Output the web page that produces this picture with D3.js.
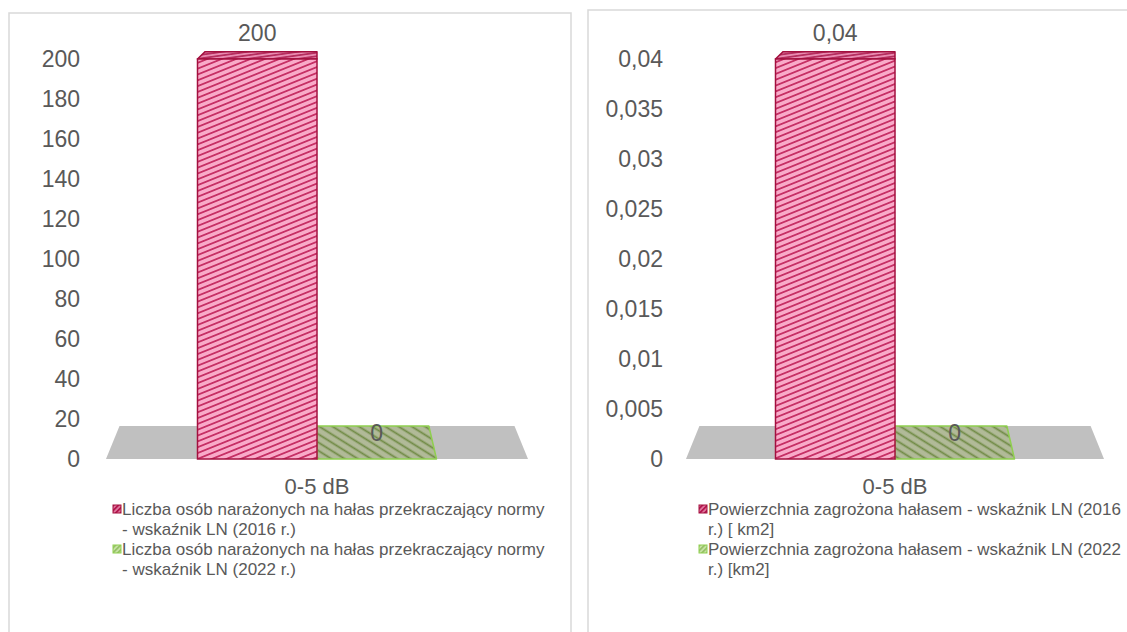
<!DOCTYPE html>
<html>
<head>
<meta charset="utf-8">
<script src="https://cdn.jsdelivr.net/npm/d3@7"></script>
<style>
  html, body { margin: 0; padding: 0; background: #fff; }
  svg { display: block; font-family: "Liberation Sans", Arial, sans-serif; }
</style>
</head>
<body>
<svg id="chart" width="1127" height="632"></svg>
<script>
// ---- data ----
const categories = ["0-5 dB"];

const peopleSeries = [
  "Liczba osób narażonych na hałas przekraczający normy\n- wskaźnik LN (2016 r.)",
  "Liczba osób narażonych na hałas przekraczający normy\n- wskaźnik LN (2022 r.)"
];
const peopleValues = [200, 0];
const peopleTicks = [0, 20, 40, 60, 80, 100, 120, 140, 160, 180, 200];

const areaSeries = [
  "Powierzchnia zagrożona hałasem - wskaźnik LN (2016\nr.) [ km2]",
  "Powierzchnia zagrożona hałasem - wskaźnik LN (2022\nr.) [km2]"
];
const areaValues = [0.04, 0];
const areaTicks = [0, 0.005, 0.01, 0.015, 0.02, 0.025, 0.03, 0.035, 0.04];

// ---- styling ----
const plLocale = d3.formatLocale({ decimal: ",", thousands: " ", grouping: [3], currency: ["", " zł"] });
const fmt = plLocale.format("~f");
const textColor = "#595959";
const seriesStyle = [
  { fill: "url(#hatchRed)", top: "url(#hatchRedTop)", stroke: "#a3103f", marker: "url(#markRed)" },
  { fill: "url(#hatchGreen)", top: "url(#hatchGreen)", stroke: "#8fcf4f", marker: "url(#markGreen)" }
];

const svg = d3.select("#chart");
const defs = svg.append("defs");

function hatch(id, bg, line, size, width, angle) {
  const p = defs.append("pattern")
    .attr("id", id)
    .attr("patternUnits", "userSpaceOnUse")
    .attr("width", 10).attr("height", size)
    .attr("patternTransform", `rotate(${angle})`);
  p.append("rect").attr("width", 10).attr("height", size).attr("fill", bg);
  p.append("line").attr("x1", 0).attr("x2", 10)
    .attr("y1", size / 2).attr("y2", size / 2)
    .attr("stroke", line).attr("stroke-width", width);
}
hatch("hatchRed", "#f9aac9", "#c3285f", 5.4, 1.7, -22);
hatch("hatchRedTop", "#e98ab0", "#a8174a", 3.5, 1.4, -8);
hatch("hatchGreen", "#b1ba98", "#708b45", 7, 1.8, 32);
hatch("markRed", "#b3164e", "#f4a6c3", 3.5, 1.2, -45);
hatch("markGreen", "#c7e3a4", "#7fb24a", 3.5, 1.2, -45);

// ---- panels ----
const panels = [
  { frame: [9, 13, 562, 640], axisX: 80, floor: [106, 528], legendX: 122,
    series: peopleSeries, values: peopleValues, ticks: peopleTicks },
  { frame: [588, 10, 560, 640], axisX: 663, floor: [686, 1104], legendX: 708,
    series: areaSeries, values: areaValues, ticks: areaTicks }
];

const yBase = 459, yTop = 59;
const vanishY = -56, backScale = 0.936;   // perspective of the 3D plot box

panels.forEach(pn => {
  const g = svg.append("g");
  const [fx, fy, fw, fh] = pn.frame;
  g.append("rect").attr("x", fx).attr("y", fy).attr("width", fw).attr("height", fh)
    .attr("fill", "#fff").attr("stroke", "#d9d9d9").attr("stroke-width", 1.5);

  const y = d3.scaleLinear().domain([0, d3.max(pn.ticks)]).range([yBase, yTop]);
  const xCat = d3.scaleBand().domain(categories).range(pn.floor);
  const cx = xCat(categories[0]) + xCat.bandwidth() / 2;
  const xSer = d3.scaleBand().domain(d3.range(pn.series.length)).range([cx - 119.5, cx + 119.5]);

  // depth 0 = front plane, 1 = back plane
  const P = (x, yy, depth) => {
    const s = 1 - (1 - backScale) * depth;
    return [cx + (x - cx) * s, vanishY + (yy - vanishY) * s];
  };
  const poly = pts => "M" + pts.map(p => p.join(",")).join("L") + "Z";

  // value axis: labels only
  const axis = d3.axisLeft(y).tickValues(pn.ticks).tickSize(0).tickPadding(0).tickFormat(fmt);
  const ax = g.append("g").attr("transform", `translate(${pn.axisX},0)`).call(axis);
  ax.select(".domain").remove();
  ax.selectAll("text").attr("fill", textColor).attr("font-size", 23)
    .attr("font-family", "'Liberation Sans', Arial, sans-serif");

  // floor
  const [f0, f1] = pn.floor;
  g.append("path")
    .attr("d", poly([P(f0, yBase, 0), P(f1, yBase, 0), P(f1, yBase, 1), P(f0, yBase, 1)]))
    .attr("fill", "#c0c0c0");

  // bars, back to front: zero-height slabs first
  const order = d3.range(pn.values.length).sort((a, b) => pn.values[a] - pn.values[b]);
  order.forEach(i => {
    const v = pn.values[i];
    const st = seriesStyle[i];
    const x0 = xSer(i), x1 = xSer(i) + xSer.bandwidth();
    const yv = y(v);
    const top = [P(x0, yv, 0), P(x1, yv, 0), P(x1, yv, 1), P(x0, yv, 1)];
    g.append("path").attr("d", poly(top))
      .attr("fill", st.top).attr("stroke", st.stroke).attr("stroke-width", 1.5)
      .attr("stroke-linejoin", "round");
    if (v > 0) {
      if (x1 < cx - 1) {
        g.append("path")
          .attr("d", poly([P(x1, yv, 0), P(x1, yBase, 0), P(x1, yBase, 1), P(x1, yv, 1)]))
          .attr("fill", st.top).attr("stroke", st.stroke).attr("stroke-width", 1.5);
      }
      g.append("rect").attr("x", x0).attr("y", yv).attr("width", x1 - x0).attr("height", yBase - yv)
        .attr("fill", st.fill).attr("stroke", st.stroke).attr("stroke-width", 1.5);
    }
  });

  // data labels
  pn.values.forEach((v, i) => {
    g.append("text")
      .attr("x", xSer(i) + xSer.bandwidth() / 2)
      .attr("y", y(v) - 26)
      .attr("dy", "0.35em")
      .attr("text-anchor", "middle")
      .attr("fill", textColor).attr("font-size", 23)
      .text(fmt(v));
  });

  // category label
  g.append("text").attr("x", cx).attr("y", 494).attr("text-anchor", "middle")
    .attr("fill", textColor).attr("font-size", 22).text(categories[0]);

  // legend
  const lineH = 20, firstBase = 515;
  let line = 0;
  pn.series.forEach((name, i) => {
    const rows = name.split("\n");
    const base = firstBase + line * lineH;
    g.append("rect").attr("x", pn.legendX - 9).attr("y", base - 10)
      .attr("width", 8).attr("height", 8)
      .attr("fill", seriesStyle[i].marker).attr("stroke", seriesStyle[i].stroke).attr("stroke-width", 1);
    const t = g.append("text").attr("x", pn.legendX).attr("y", base)
      .attr("fill", textColor).attr("font-size", 17);
    rows.forEach((r, k) => {
      t.append("tspan").attr("x", pn.legendX).attr("y", base + k * lineH).text(r);
    });
    line += rows.length;
  });
});
</script>
</body>
</html>
